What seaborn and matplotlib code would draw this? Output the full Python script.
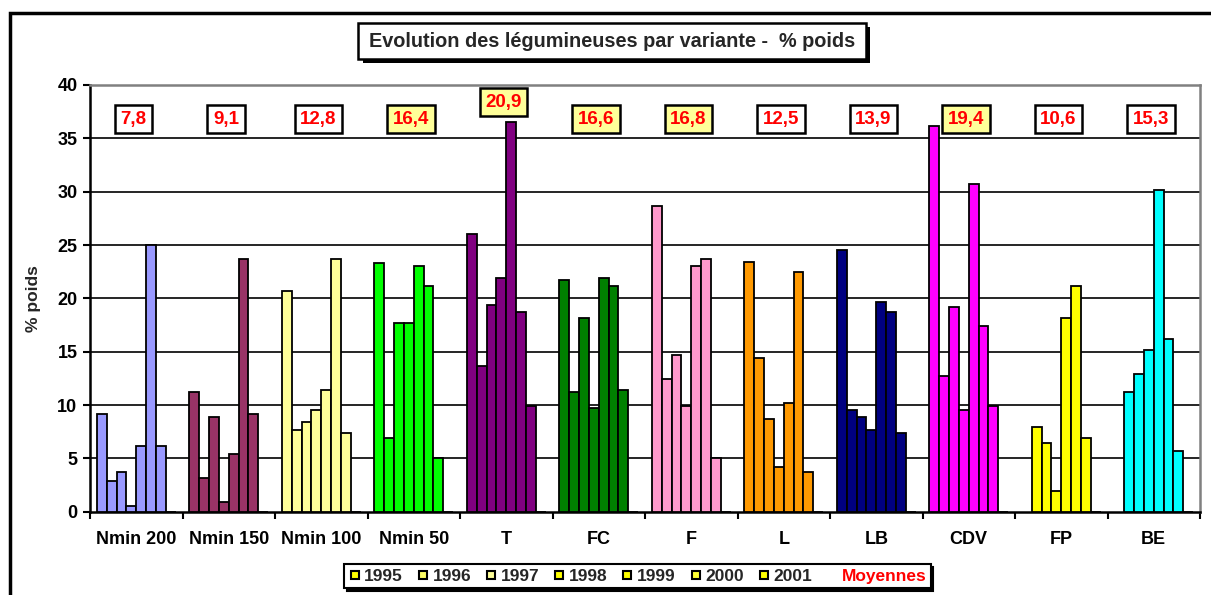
import numpy as np
import pandas as pd
import matplotlib
matplotlib.use("Agg")
import matplotlib.pyplot as plt
from matplotlib.patches import Rectangle
from matplotlib.lines import Line2D
import seaborn as sns

categories = ["Nmin 200", "Nmin 150", "Nmin 100", "Nmin 50", "T", "FC", "F",
              "L", "LB", "CDV", "FP", "BE"]
years = ["1995", "1996", "1997", "1998", "1999", "2000", "2001"]
v1995 = [9.2, 11.2, 20.7, 23.3, 26.0, 21.7, 28.7, 23.4, 24.5, 36.2, None, None]
v1996 = [2.9, 3.2, 7.7, 6.9, 13.7, 11.2, 12.4, 14.4, 9.5, 12.7, 7.9, 11.2]
v1997 = [3.7, 8.9, 8.4, 17.7, 19.4, 18.2, 14.7, 8.7, 8.9, 19.2, 6.4, 12.9]
v1998 = [0.5, 0.9, 9.5, 17.7, 21.9, 9.7, 9.9, 4.2, 7.7, 9.5, 1.9, 15.2]
v1999 = [6.2, 5.4, 11.4, 23.0, 36.5, 21.9, 23.0, 10.2, 19.7, 30.7, 18.2, 30.2]
v2000 = [25.0, 23.7, 23.7, 21.2, 18.7, 21.2, 23.7, 22.5, 18.7, 17.4, 21.2, 16.2]
v2001 = [6.2, 9.2, 7.4, 5.0, 9.9, 11.4, 5.0, 3.7, 7.4, 9.9, 6.9, 5.7]
means = [7.8, 9.1, 12.8, 16.4, 20.9, 16.6, 16.8, 12.5, 13.9, 19.4, 10.6, 15.3]
mean_labels = ["7,8", "9,1", "12,8", "16,4", "20,9", "16,6", "16,8", "12,5",
               "13,9", "19,4", "10,6", "15,3"]
cat_colors = ["#9999FF", "#993366", "#FFFF99", "#00FF00", "#800080", "#008000",
              "#FF99CC", "#FF9900", "#000080", "#FF00FF", "#FFFF00", "#00FFFF"]
legend_colors = ["#FFFF00", "#FFFF66", "#FFFF99", "#FFFF00", "#FFFF00", "#FFFF33", "#FFFF00"]
y_ticks = [0, 5, 10, 15, 20, 25, 30, 35, 40]

series = [v1995, v1996, v1997, v1998, v1999, v2000, v2001]
rows = []
for yr, vals in zip(years, series):
    for c, v in zip(categories, vals):
        if v is not None:
            rows.append({"variante": c, "annee": yr, "val": v})
for c in categories:
    rows.append({"variante": c, "annee": "Moyennes", "val": 0.0})
df = pd.DataFrame(rows)

sns.set_theme(style="white")
plt.rcParams["font.family"] = ["Liberation Sans", "DejaVu Sans"]
plt.rcParams["font.weight"] = "bold"

W, H = 1211, 595
fig = plt.figure(figsize=(W / 100, H / 100), dpi=100)
ax = fig.add_axes([90 / W, 1 - 511.7 / H, (1200 - 90) / W, (511.7 - 85) / H])

sns.barplot(data=df, x="variante", y="val", hue="annee", order=categories,
            hue_order=years + ["Moyennes"], width=0.853, gap=0, ax=ax,
            errorbar=None, legend=False, edgecolor="black", linewidth=1.3)

# hide the placeholder "Moyennes" slot, colour bars per category
for cont in ax.containers:
    lab = cont.get_label()
    for p in cont.patches:
        xc = p.get_x() + p.get_width() / 2
        ci = int(round(xc))
        if lab == "Moyennes":
            p.set_visible(False)
        else:
            p.set_facecolor(cat_colors[ci])
            p.set_edgecolor("black")
            p.set_zorder(3)

ax.set_xlim(-0.5, len(categories) - 0.5)
ax.set_ylim(0, 40)
ax.set_yticks(y_ticks)
ax.set_yticklabels([str(t) for t in y_ticks], fontsize=13, fontweight="bold")
for t in y_ticks[1:-1]:
    ax.axhline(t, color="black", lw=1.2, zorder=1)

ax.set_xticks(range(len(categories)))
ax.set_xticklabels(categories, fontsize=13, fontweight="bold")
ax.set_xticks(np.arange(-0.5, len(categories), 1.0), minor=True)
ax.tick_params(axis="x", which="major", length=0, pad=14, colors="black")
ax.tick_params(axis="x", which="minor", length=5, width=1.5, direction="out",
               color="black", bottom=True)
ax.tick_params(axis="y", which="major", length=5, width=1.5, direction="out",
               pad=4, left=True, colors="black")
ax.set_xlabel("")
ax.set_ylabel("% poids", fontsize=12.5, fontweight="bold", labelpad=12)

for side in ["left", "bottom"]:
    ax.spines[side].set_color("black")
    ax.spines[side].set_linewidth(1.8)
for side in ["top", "right"]:
    ax.spines[side].set_color("#808080")
    ax.spines[side].set_linewidth(1.8)
    ax.spines[side].set_visible(True)

# mean labels
for i, (m, lab) in enumerate(zip(means, mean_labels)):
    ypos = 38.4 if i == 4 else 36.8
    fc = "#FFFF99" if m > 16 else "white"
    ax.text(i - 0.03, ypos, lab, ha="center", va="center", color="#FF0000",
            fontsize=13.5, fontweight="bold", zorder=5,
            bbox=dict(boxstyle="square,pad=0.3", fc=fc, ec="black", lw=1.8))

# outer chart border
fig.patches.append(Rectangle((10 / W, -0.1), 1.2, 1.1 - 13 / H, transform=fig.transFigure,
                             fill=False, ec="black", lw=2.5, zorder=0))

# title box with shadow
fig.patches.append(Rectangle((363 / W, 1 - 63 / H), (870 - 363) / W, (63 - 27) / H,
                             transform=fig.transFigure, fc="black", ec="black", lw=0, zorder=1))
fig.patches.append(Rectangle((358 / W, 1 - 58.5 / H), (866 - 358) / W, (58.5 - 23.5) / H,
                             transform=fig.transFigure, fc="white", ec="black", lw=1.8, zorder=2))
fig.text(612 / W, 1 - 41.5 / H, "Evolution des légumineuses par variante -  % poids",
         ha="center", va="center", fontsize=14.3, fontweight="bold", zorder=3)

# legend
handles = [Line2D([], [], marker="s", linestyle="none", markerfacecolor=c,
                  markeredgecolor="black", markeredgewidth=1.5, markersize=6)
           for c in legend_colors]
handles.append(Line2D([], [], linestyle="none", marker=None))
labels = years + ["Moyennes"]
leg = fig.legend(handles, labels, loc="center", bbox_to_anchor=(637.5 / W, 1 - 576 / H),
                 ncol=8, frameon=True, fancybox=False, fontsize=12.5,
                 handlelength=0.7, handletextpad=0.2, columnspacing=0.8,
                 borderpad=0.25, shadow={"color": "black", "alpha": 1.0})
leg.get_frame().set_edgecolor("black")
leg.get_frame().set_linewidth(1.5)
for t, l in zip(leg.get_texts(), labels):
    t.set_fontweight("bold")
    if l == "Moyennes":
        t.set_color("#FF0000")

fig.savefig("out.png", dpi=100)
